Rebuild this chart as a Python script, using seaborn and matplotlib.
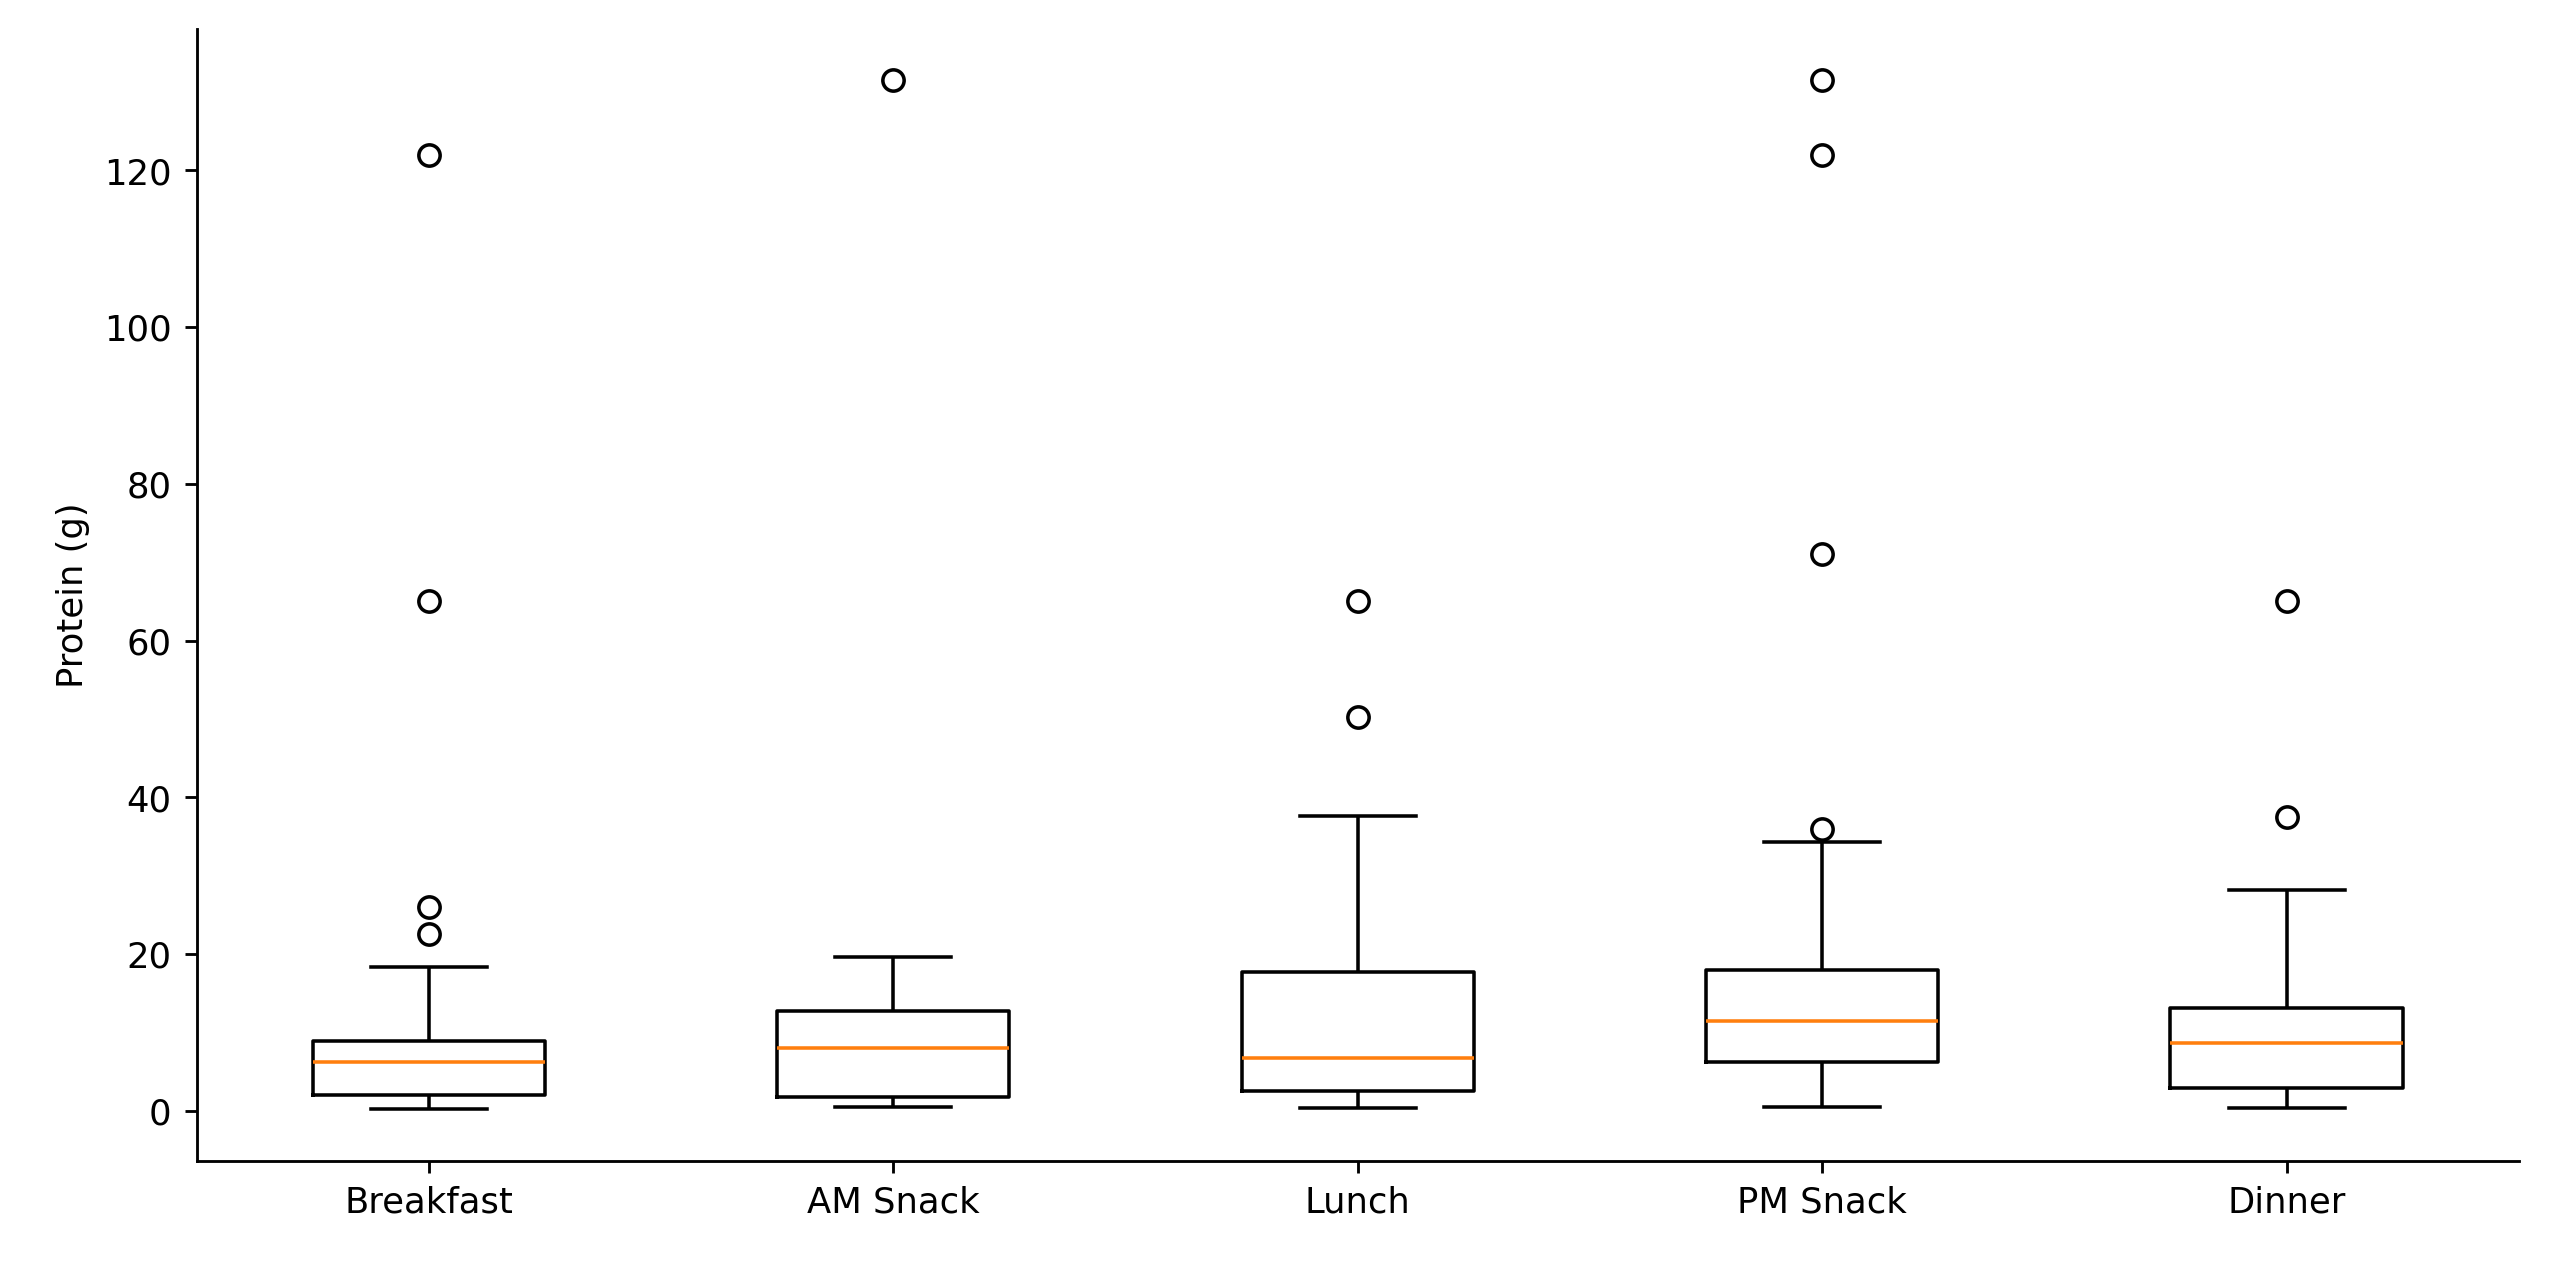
import pandas as pd
import matplotlib
matplotlib.use("Agg")
import matplotlib.pyplot as plt
import seaborn as sns

# meal categories and protein values (g)
meals = ["Breakfast", "AM Snack", "Lunch", "PM Snack", "Dinner"]

breakfast = [0.2, 0.5, 0.8, 1.2, 1.6, 2.0, 3.0, 4.0, 4.8, 5.5, 6.2,
             6.8, 7.3, 7.8, 8.4, 8.9, 18.3, 22.5, 26.0, 65.0, 122.0]
am_snack = [0.5, 1.2, 1.8, 5.0, 8.0, 10.0, 12.7, 19.6, 131.5]
lunch = [0.3, 1.0, 1.8, 2.5, 4.0, 5.5, 6.8, 9.0, 13.0, 17.7, 37.6, 50.3, 65.0]
pm_snack = [0.5, 1.5, 2.5, 3.5, 5.0, 6.2, 7.5, 8.5, 9.5, 10.5, 11.5,
            12.5, 14.0, 15.0, 16.5, 18.0, 34.3, 36.0, 71.0, 122.0, 131.5]
dinner = [0.3, 1.0, 2.0, 2.9, 5.0, 7.0, 8.6, 10.0, 11.5, 13.1, 28.2, 37.5, 65.0]

values = [breakfast, am_snack, lunch, pm_snack, dinner]
df = pd.DataFrame({
    "Meal": [m for m, v in zip(meals, values) for _ in v],
    "Protein": [x for v in values for x in v],
})

fig, ax = plt.subplots(figsize=(10, 4.95), dpi=255.2)
sns.boxplot(data=df, x="Meal", y="Protein", order=meals, ax=ax,
            width=0.5, fill=False, color="black", linewidth=1, saturation=1,
            whis=1.5,
            medianprops=dict(color="#ff7f0e", linewidth=1),
            flierprops=dict(marker="o", markersize=6, markerfacecolor="none",
                            markeredgecolor="black"))
ax.set_xlabel("")
ax.set_ylabel("Protein (g)")
ax.set_yticks([0, 20, 40, 60, 80, 100, 120])
sns.despine(ax=ax)
plt.subplots_adjust(left=0.077, right=0.987, top=0.977, bottom=0.081)
plt.savefig("out.png")
